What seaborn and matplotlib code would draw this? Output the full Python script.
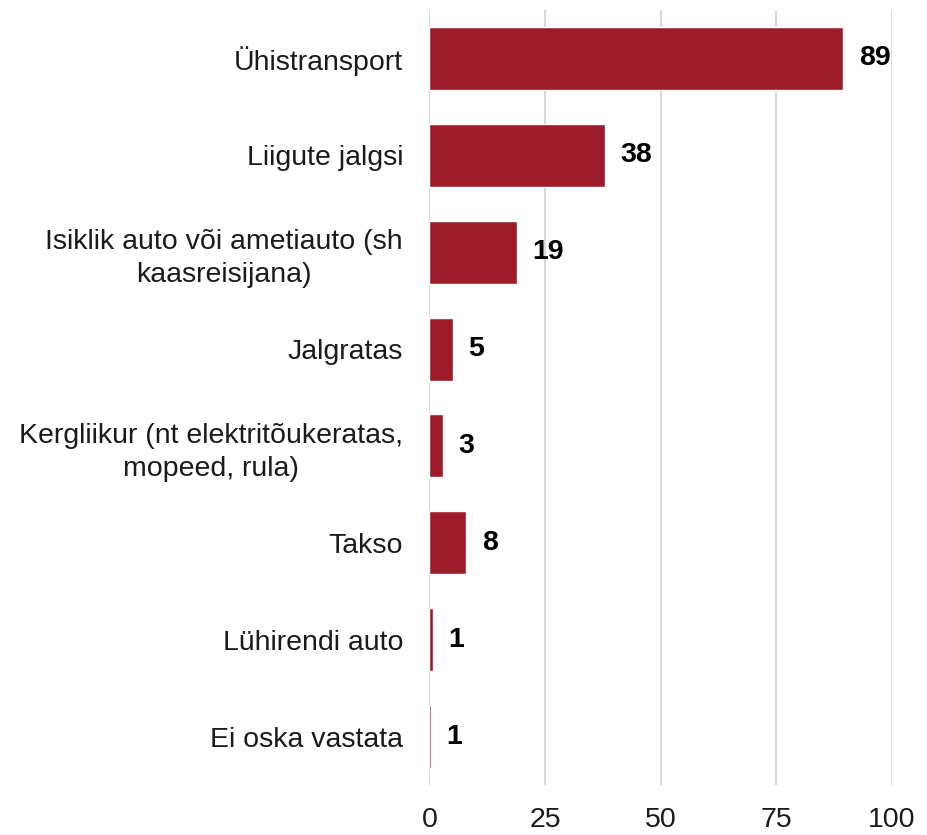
import matplotlib
matplotlib.use("Agg")
from matplotlib import pyplot as plt
import seaborn as sns

# kategooriad ja väärtused (%)
categories = [
    "Ühistransport",
    "Liigute jalgsi",
    "Isiklik auto või ametiauto (sh\nkaasreisijana)",
    "Jalgratas",
    "Kergliikur (nt elektritõukeratas,\nmopeed, rula)",
    "Takso",
    "Lühirendi auto",
    "Ei oska vastata",
]
values = [89.5, 38, 19, 5, 3, 8, 0.7, 0.4]
value_labels = ["89", "38", "19", "5", "3", "8", "1", "1"]
x_ticks = [0, 25, 50, 75, 100]

sns.set_style("white")
plt.rcParams['font.family'] = ['Liberation Sans', 'DejaVu Sans']

fig = plt.figure(figsize=(9.27, 8.35), dpi=100)
ax = fig.add_axes([0.4633, 0.0599, 0.4989, 0.9281])

sns.barplot(x=values, y=categories, orient="h", color="#9d1c2a",
            width=0.65, saturation=1, ax=ax, zorder=3)

ax.bar_label(ax.containers[0], labels=value_labels, padding=11,
             fontsize=20.5, fontweight="bold", color="black")

ax.set_xlim(0, 100)
ax.set_ylim(7.5, -0.5)
ax.set_xticks(x_ticks)
ax.xaxis.grid(True, color="#d9d9d9", linewidth=1.5, zorder=0)
ax.yaxis.grid(False)
for s in ax.spines.values():
    s.set_visible(False)

ax.tick_params(axis="x", length=0, pad=16, labelsize=20.5, labelcolor="#1a1a1a")
ax.tick_params(axis="y", length=0, pad=19, labelsize=20.5, labelcolor="#1a1a1a")
for lab in ax.get_yticklabels():
    lab.set_multialignment("center")
    lab.set_linespacing(1.35)
ax.set_xlabel("")
ax.set_ylabel("")

fig.savefig("out.png", dpi=100)
